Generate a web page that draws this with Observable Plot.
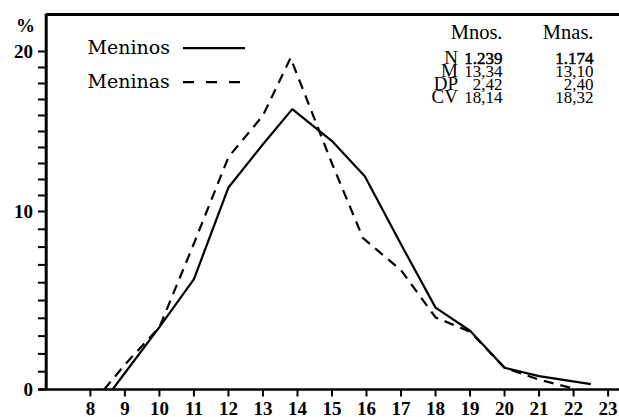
<!DOCTYPE html>
<html><head><meta charset="utf-8">
<script src="https://cdn.jsdelivr.net/npm/d3@7"></script>
<script src="https://cdn.jsdelivr.net/npm/@observablehq/plot@0.6"></script>
<style>html,body{margin:0;padding:0;background:#fff} svg{display:block}</style>
</head><body><div id="chart"></div>
<script>
// ---- data ----
const xTicks = [8,9,10,11,12,13,14,15,16,17,18,19,20,21,22,23];
const yTicks = [0,1,2,3,4,5,6,7,8,9,10,11,12,13,14,15,16,17,18,19,20];
const yLabels = [0,10,20];
const meninosAge = [8.64,10,11,12,13,13.85,15,15.95,17.1,18,19,20,21,22.5];
const meninosPct = [0,3.5,6.2,11.5,14.2,16.4,14.4,12.2,7.8,4.6,3.3,1.22,0.75,0.3];
const meninasAge = [8.4,9,10,11,12,13,13.8,15,15.9,17,18,19,20,21,22];
const meninasPct = [0,1.4,3.5,8.2,13.4,16.0,19.6,13.0,8.5,6.7,4.05,3.25,1.22,0.55,0.05];
const legendLabels = ["Meninos","Meninas"];
const statHeaders = ["Mnos.","Mnas."];
const statNames = ["N","M","DP","CV"];
const statMnos = ["1.239","13,34","2,42","18,14"];
const statMnas = ["1.174","13,10","2,40","18,32"];

// ---- layout / scales (the printed y axis is compressed above 10 %) ----
const W = 619, H = 417;
const axisLeftPx = 45.7, axisBottomPx = 389, topPx = 14;
const xMin = 6.72, xMax = 23.33;
const kx = (xMax - xMin) / (W - axisLeftPx);          // data units per pixel
const pxPerT = 17.8;
const upper = 16 / 17.8;
const yT = v => v <= 10 ? v : 10 + (v - 10) * upper;   // printed-axis mapping
const px2x = px => xMin + (px - axisLeftPx) * kx;
const px2y = px => (axisBottomPx - px) / pxPerT;
const yTop = px2y(topPx);
// frame made a little larger than the axes so that tick marks fall inside it
const mL = 34, mB = 17, mT = topPx - 2, mR = 0;

const boys = meninosAge.map((a,i)=>({age:a,pct:meninosPct[i]}));
const girls = meninasAge.map((a,i)=>({age:a,pct:meninasPct[i]}));

const serif = "DejaVu Serif";
const tfont = "Liberation Serif";
const rowY = i => px2y(63 + 13.2*i);

const plot = Plot.plot({
  width: W, height: H,
  marginLeft: mL, marginRight: mR, marginTop: mT, marginBottom: mB,
  x: {type: "linear", domain: [px2x(mL), xMax], axis: null},
  y: {type: "linear", domain: [px2y(H - mB), px2y(mT)], axis: null},
  style: {background: "#fff", color: "#000"},
  marks: [
    Plot.line(boys, {x:"age", y: d => yT(d.pct), stroke:"#000", strokeWidth:2.2, strokeLinejoin:"miter", strokeLinecap:"butt"}),
    Plot.line(girls, {x:"age", y: d => yT(d.pct), stroke:"#000", strokeWidth:2.2, strokeDasharray:"10,7", strokeLinejoin:"miter", strokeLinecap:"butt"}),
    // frame: top border, left axis, bottom axis
    Plot.ruleY([yTop], {x1: () => xMin, x2: () => xMax, stroke:"#000", strokeWidth:2.8}),
    Plot.ruleX([xMin], {y1: () => 0, y2: () => yTop, stroke:"#000", strokeWidth:3}),
    Plot.ruleY([0], {x1: () => px2x(38), x2: () => xMax, stroke:"#000", strokeWidth:2.4}),
    // x ticks + labels
    Plot.ruleX(xTicks, {x: d => d, y1: () => 0, y2: () => px2y(396.5), stroke: "#000", strokeWidth: 2}),
    Plot.text(xTicks, {x: d => d, y: () => px2y(414.5), text: d => String(d), lineAnchor: "bottom", textAnchor: "middle",
      fontFamily: tfont, fontSize: 19, fontWeight: "bold", fill: "#000"}),
    // y ticks + labels
    Plot.ruleY(yTicks, {y: d => yT(d), x1: () => px2x(38), x2: () => xMin, stroke: "#000", strokeWidth: 2}),
    Plot.text(yLabels, {y: d => yT(d), x: () => px2x(32.5), text: d => String(d), lineAnchor: "middle", textAnchor: "end",
      fontFamily: tfont, fontSize: 19, fontWeight: "bold", fill: "#000"}),
    Plot.text(["%"], {x: () => px2x(25), y: () => px2y(31), lineAnchor: "bottom", textAnchor: "middle",
      fontFamily: tfont, fontSize: 19, fontWeight: "bold", fill: "#000"}),
    // legend
    Plot.text(legendLabels, {x: () => px2x(87), y: (d,i) => px2y([53.3, 87.3][i]), textAnchor: "start", lineAnchor: "bottom",
      fontFamily: serif, fontSize: 19, fill: "#000"}),
    Plot.ruleY([legendLabels[0]], {y: () => px2y(47.7), x1: () => px2x(183), x2: () => px2x(245), stroke: "#000", strokeWidth: 2.2}),
    Plot.ruleY([legendLabels[1]], {y: () => px2y(81.7), x1: () => px2x(183), x2: () => px2x(245), stroke: "#000", strokeWidth: 2.2, strokeDasharray: "11,12"}),
    // stats table
    Plot.text(statHeaders, {x: (d,i) => px2x([502, 593][i]), y: () => px2y(38.3), textAnchor: "end", lineAnchor: "bottom",
      fontFamily: tfont, fontSize: 20.5, fill: "#000"}),
    Plot.text(statNames, {x: () => px2x(457.5), y: (d,i) => rowY(i), textAnchor: "end", lineAnchor: "bottom",
      fontFamily: tfont, fontSize: 19, fill: "#000"}),
    Plot.text(statMnos, {x: () => px2x(502), y: (d,i) => rowY(i), textAnchor: "end", lineAnchor: "bottom",
      fontFamily: tfont, fontSize: 17, fill: "#000", stroke: (d,i) => i === 0 ? "#000" : "none", strokeWidth: 0.5}),
    Plot.text(statMnas, {x: () => px2x(593), y: (d,i) => rowY(i), textAnchor: "end", lineAnchor: "bottom",
      fontFamily: tfont, fontSize: 17, fill: "#000", stroke: (d,i) => i === 0 ? "#000" : "none", strokeWidth: 0.5})
  ]
});
document.getElementById("chart").appendChild(plot);
</script>
</body></html>
